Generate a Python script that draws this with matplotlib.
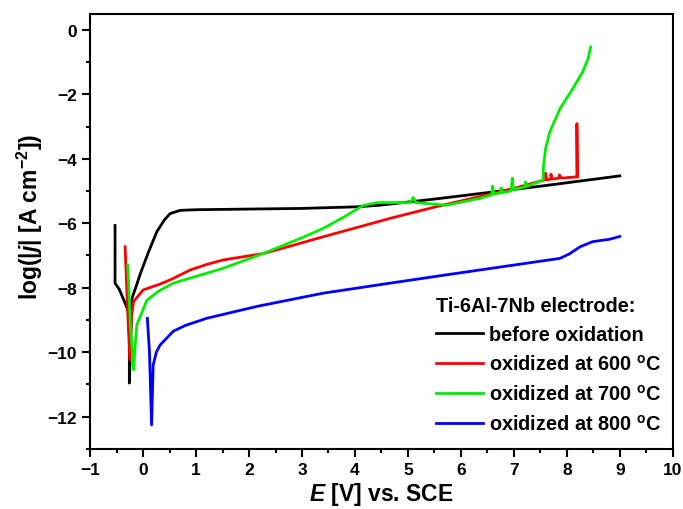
import matplotlib
matplotlib.use("Agg")
import matplotlib.pyplot as plt
from matplotlib.ticker import MultipleLocator

plt.rcParams['font.family'] = ['Liberation Sans', 'DejaVu Sans']
plt.rcParams['font.weight'] = 'bold'
plt.rcParams['mathtext.fontset'] = 'custom'
plt.rcParams['mathtext.rm'] = 'Liberation Sans:bold'
plt.rcParams['mathtext.it'] = 'Liberation Sans:italic:bold'
plt.rcParams['mathtext.bf'] = 'Liberation Sans:bold'

# polarization curves: potential E [V], log|j|
before_E = [-0.53, -0.53, -0.45, -0.34, -0.28, -0.26, -0.26, -0.21, -0.12, -0.06, 0.1, 0.26, 0.4,
            0.51, 0.7, 1.0, 2.0, 3.0, 4.03, 4.47, 5.5, 6.5, 7.5, 8.3, 9.0]
before_j = [-6.07, -7.86, -8.05, -8.48, -8.73, -9.5, -10.96, -8.33, -7.9, -7.6, -6.9, -6.26, -5.9,
            -5.7, -5.6, -5.58, -5.56, -5.54, -5.49, -5.44, -5.25, -5.05, -4.85, -4.68, -4.53]

ox600_E = [-0.34, -0.3, -0.25, -0.22, -0.18, 0.0, 0.3, 0.51, 0.89, 1.2, 1.51, 2.27, 2.8, 3.4,
           4.0, 4.66, 5.5, 6.36, 7.0, 7.55, 7.6, 7.6, 7.62, 7.7, 7.7, 7.72, 7.85, 7.86, 7.9,
           8.19, 8.19, 8.2]
ox600_j = [-6.73, -8.4, -10.24, -8.9, -8.43, -8.07, -7.9, -7.76, -7.45, -7.28, -7.14, -6.94, -6.7, -6.42,
           -6.15, -5.85, -5.5, -5.17, -4.92, -4.67, -4.65, -4.45, -4.65, -4.63, -4.48, -4.63, -4.6, -4.5, -4.6,
           -4.56, -2.91, -4.56]

ox700_E = [-0.29, -0.24, -0.18, -0.15, -0.12, 0.07, 0.3, 0.57, 1.0, 1.51, 2.27, 3.0, 3.4, 3.8,
           4.15, 4.42, 5.05, 5.1, 5.15, 5.73, 6.36, 6.58, 6.6, 6.62, 6.74, 6.76, 6.78, 6.95, 6.97,
           6.99, 7.2, 7.22, 7.24, 7.49, 7.55, 7.56, 7.6, 7.68, 7.87, 8.11, 8.3, 8.4, 8.45]
ox700_j = [-7.3, -9.2, -10.55, -9.8, -9.16, -8.39, -8.1, -7.86, -7.65, -7.4, -6.94, -6.45, -6.16, -5.8,
           -5.45, -5.36, -5.36, -5.2, -5.36, -5.44, -5.23, -5.12, -4.85, -5.1, -5.06, -4.9, -5.05, -5.0, -4.6,
           -4.95, -4.88, -4.72, -4.86, -4.7, -4.65, -4.2, -3.68, -3.16, -2.45, -1.83, -1.3, -0.9, -0.53]

ox800_E = [0.08, 0.12, 0.16, 0.19, 0.25, 0.32, 0.57, 0.8, 1.2, 2.15, 3.4, 4.66, 5.73, 6.99, 7.87,
           8.05, 8.25, 8.49, 8.8, 9.0]
ox800_j = [-8.95, -10.0, -12.26, -10.4, -10.0, -9.78, -9.35, -9.17, -8.95, -8.58, -8.17, -7.86, -7.6, -7.3, -7.09,
           -6.95, -6.73, -6.57, -6.5, -6.41]

series = [
    (before_E, before_j, 'black', 'before oxidation'),
    (ox600_E, ox600_j, '#ff0000', 'oxidized at 600 $^{\\rm o}$C'),
    (ox700_E, ox700_j, '#00ee00', 'oxidized at 700 $^{\\rm o}$C'),
    (ox800_E, ox800_j, '#0000ff', 'oxidized at 800 $^{\\rm o}$C'),
]

fig = plt.figure(figsize=(6.83, 5.10), dpi=100)
ax = fig.add_axes([0.132, 0.118, 0.853, 0.853])

for E, j, c, lab in series:
    ax.plot(E, j, color=c, lw=2, label=lab)

ax.set_xlim(-1, 10)
ax.set_ylim(-13, 0.5)
ax.xaxis.set_major_locator(MultipleLocator(1))
ax.xaxis.set_minor_locator(MultipleLocator(0.5))
ax.yaxis.set_major_locator(MultipleLocator(2))
ax.yaxis.set_minor_locator(MultipleLocator(1))
ax.tick_params(which='major', direction='out', length=6, width=1.5, labelsize=12.5)
ax.tick_params(which='minor', direction='out', length=3, width=1.5)
for s in ax.spines.values():
    s.set_linewidth(1.5)
for lbl in ax.get_xticklabels() + ax.get_yticklabels():
    lbl.set_fontweight('bold')

ax.set_xlabel('$E$ [V] vs. SCE', fontsize=16.5, fontweight='bold', labelpad=2)
ax.set_ylabel('log(|$j$| [A cm$^{-2}$])', fontsize=16.5, fontweight='bold', labelpad=2)
ax.yaxis.label.set_y(0.536)

leg = ax.legend(loc='lower right', bbox_to_anchor=(0.994, 0.016), frameon=False,
                title='Ti-6Al-7Nb electrode:', title_fontsize=14.3,
                handlelength=2.4, handletextpad=0.3, labelspacing=0.5,
                borderaxespad=0.0, prop={'weight': 'bold', 'size': 14.3})
leg.get_title().set_fontweight('bold')
leg._legend_box.align = 'left'

fig.savefig('out.png', dpi=100)
